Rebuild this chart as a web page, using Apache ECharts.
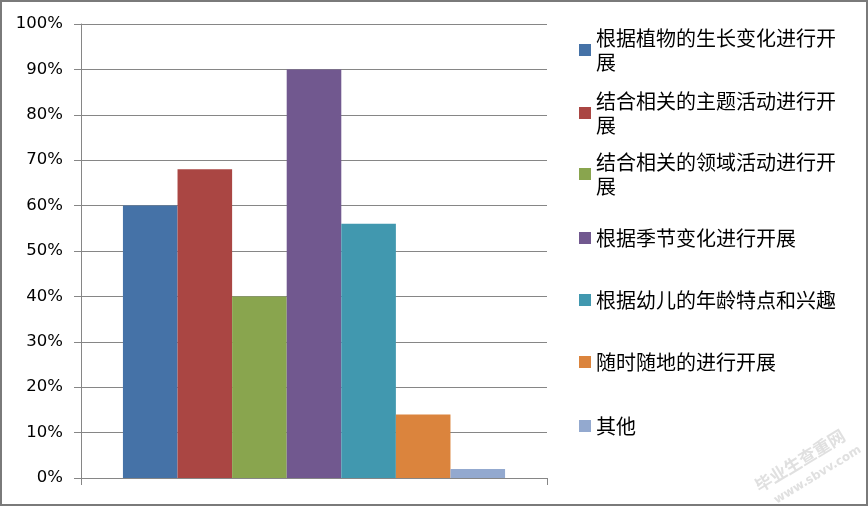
<!DOCTYPE html>
<html>
<head>
<meta charset="utf-8">
<script src="https://cdn.jsdelivr.net/npm/echarts@6/dist/echarts.min.js"></script>
<style>
html, body { margin: 0; padding: 0; background: #fff; }
#main { width: 868px; height: 506px; }
</style>
</head>
<body>
<div id="main"></div>
<script>
var names = ['根据植物的生长变化进行开展', '结合相关的主题活动进行开展', '结合相关的领域活动进行开展',
    '根据季节变化进行开展', '根据幼儿的年龄特点和兴趣', '随时随地的进行开展', '其他'];
var values = [60, 68, 40, 90, 56, 14, 2];
var colors = ['#4572A7', '#AA4643', '#89A54E', '#71588F', '#4198AF', '#DB843D', '#93A9CF'];
var category = [''];
// where each legend marker sits (vertical centre, px)
var legendY = [50, 113, 174, 238, 300, 362, 426];

var chart = echarts.init(document.getElementById('main'));

var series = [];
var legends = [];
for (var i = 0; i < names.length; i++) {
    series.push({
        name: names[i],
        type: 'bar',
        data: [values[i]],
        barGap: 0,
        barCategoryGap: '18%',
        itemStyle: { color: colors[i] }
    });
    var twoLines = names[i].length > 12;
    legends.push({
        data: [names[i]],
        left: 579,
        top: legendY[i] - (twoLines ? 36 : 12),
        padding: 0,
        icon: 'rect',
        itemWidth: 12,
        itemHeight: 12,
        selectedMode: false,
        textStyle: {
            fontFamily: 'Noto Sans CJK SC',
            fontSize: 20,
            color: '#000',
            width: 246,
            overflow: 'break',
            lineHeight: 24,
            padding: twoLines ? [24, 0, 0, 0] : 0
        }
    });
}

option = {
    backgroundColor: '#fff',
    animation: false,
    legend: legends,
    grid: {
        left: 81,
        right: 321,
        top: 24,
        bottom: 28
    },
    xAxis: {
        type: 'category',
        data: category,
        axisLine: { lineStyle: { color: '#868686' } },
        axisTick: { show: true, length: 7, lineStyle: { color: '#868686' } },
        axisLabel: { show: false }
    },
    yAxis: {
        type: 'value',
        min: 0,
        max: 100,
        interval: 10,
        axisLine: { show: true, lineStyle: { color: '#868686' } },
        axisTick: { show: true, length: 7, lineStyle: { color: '#868686' } },
        axisLabel: {
            formatter: '{value}%',
            margin: 18,
            color: '#000',
            fontFamily: 'DejaVu Sans',
            fontSize: 16.5
        },
        splitLine: { lineStyle: { color: '#868686' } }
    },
    series: series,
    graphic: [
        {
            type: 'rect',
            shape: { x: 1, y: 1, width: 866, height: 504 },
            style: { fill: 'none', stroke: '#7a7a7a', lineWidth: 2 },
            silent: true
        },
        {
            type: 'text',
            x: 752, y: 480, rotation: 0.55,
            style: { text: '毕业生查重网', fill: '#e0e0e0', font: 'bold 17px "Noto Sans CJK SC"' },
            silent: true
        },
        {
            type: 'text',
            x: 772, y: 496, rotation: 0.55,
            style: { text: 'www.sbvv.com', fill: '#e0e0e0', font: 'bold 12px "DejaVu Sans"' },
            silent: true
        }
    ]
};

chart.setOption(option);

window.onresize = function() {
    chart.resize();
}
</script>
</body>
</html>
